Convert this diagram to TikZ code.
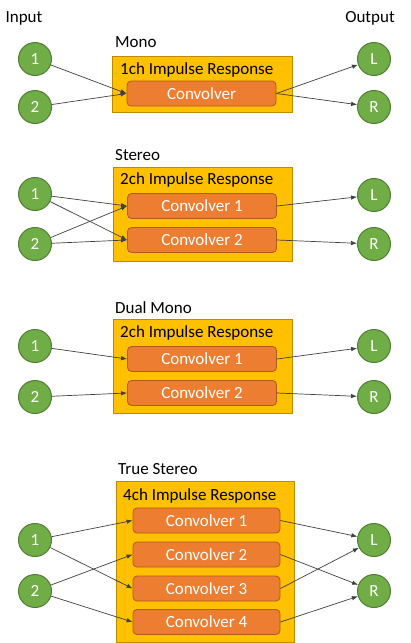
\documentclass[tikz,border=0pt]{standalone}
\usepackage{fontspec}
\setmainfont{Carlito}
\usetikzlibrary{arrows.meta,positioning}
\definecolor{chgreen}{HTML}{70AD47}
\definecolor{chgreenline}{HTML}{507E32}
\definecolor{iryellow}{HTML}{FFC000}
\definecolor{iryellowline}{HTML}{BC8C00}
\definecolor{convorange}{HTML}{ED7D31}
\definecolor{convorangeline}{HTML}{AE5A21}
\definecolor{sigline}{HTML}{404040}
\tikzset{
  chan/.style={circle, draw=chgreenline, fill=chgreen, line width=1pt,
    minimum size=33pt, inner sep=0pt, text=white},
  irbox/.style={draw=iryellowline, fill=iryellow, line width=0.8pt, inner sep=0pt},
  conv/.style={draw=convorangeline, fill=convorange, rounded corners=4pt,
    line width=0.8pt, minimum width=149pt, minimum height=25pt,
    inner sep=0pt, text=white},
  txt/.style={anchor=west, inner sep=0pt},
  sig/.style={-{Latex[length=6pt,width=4.5pt]}, draw=sigline, line width=0.7pt},
}
\newcommand{\channels}[5]{%
  \node[chan] (#1in1) at (35,#2) {1};
  \node[chan] (#1in2) at (35,#3) {2};
  \node[chan] (#1outL) at (374,#4) {L};
  \node[chan] (#1outR) at (374,#5) {R};
}
\begin{document}
\begin{tikzpicture}[x=1pt, y=-1pt, font=\fontsize{17}{20}\selectfont]
\useasboundingbox (0,0) rectangle (410,643);

\node (input) at (24,18) {Input};
\node (output) at (370,18) {Output};

% Mono
\node[txt] (monotitle) at (115,42) {Mono};
\node[irbox, minimum width=180pt, minimum height=56pt] (monobox) at (202,84) {};
\node[txt] (monoir) at (120,70) {1ch Impulse Response};
\node[conv] (monoconv) at (201.5,93.5) {Convolver};
\channels{mono}{59}{107}{59}{107}
\foreach \a in {in1,in2} \draw[sig] (mono\a) -- (monoconv.west);
\foreach \b in {outL,outR} \draw[sig] (monoconv.east) -- (mono\b);

% Stereo
\node[txt] (sttitle) at (115,155) {Stereo};
\node[irbox, minimum width=179pt, minimum height=94pt] (stbox) at (202.5,214) {};
\node[txt] (stir) at (120,180) {2ch Impulse Response};
\node[conv] (stconv1) at (202,206) {Convolver 1};
\node[conv] (stconv2) at (202,240) {Convolver 2};
\channels{st}{194}{244}{195}{244}
\foreach \a/\b in {in1/conv1,in2/conv1,in1/conv2,in2/conv2}
  \draw[sig] (st\a) -- (st\b.west);
\draw[sig] (stconv1.east) -- (stoutL);
\draw[sig] (stconv2.east) -- (stoutR);

% Dual Mono
\node[txt] (dmtitle) at (115,308) {Dual Mono};
\node[irbox, minimum width=179pt, minimum height=94pt] (dmbox) at (202.5,366) {};
\node[txt] (dmir) at (120,333) {2ch Impulse Response};
\node[conv] (dmconv1) at (202,359) {Convolver 1};
\node[conv] (dmconv2) at (202,393) {Convolver 2};
\channels{dm}{346}{397}{346}{397}
\draw[sig] (dmin1) -- (dmconv1.west);
\draw[sig] (dmin2) -- (dmconv2.west);
\draw[sig] (dmconv1.east) -- (dmoutL);
\draw[sig] (dmconv2.east) -- (dmoutR);

% True Stereo
\node[txt] (tstitle) at (118,469) {True Stereo};
\node[irbox, minimum width=178pt, minimum height=161pt] (tsbox) at (205,561.5) {};
\node[txt] (tsir) at (123,496) {4ch Impulse Response};
\foreach \y [count=\i] in {520.5,554.5,588.5,622}
  \node[conv, minimum width=147pt] (tsconv\i) at (206.5,\y) {Convolver \i};
\channels{ts}{540}{591}{540}{591}
\foreach \a/\b in {in1/conv1,in1/conv3,in2/conv2,in2/conv4}
  \draw[sig] (ts\a) -- (ts\b.west);
\foreach \a/\b in {conv1/outL,conv3/outL,conv2/outR,conv4/outR}
  \draw[sig] (ts\a.east) -- (ts\b);

\end{tikzpicture}
\end{document}
